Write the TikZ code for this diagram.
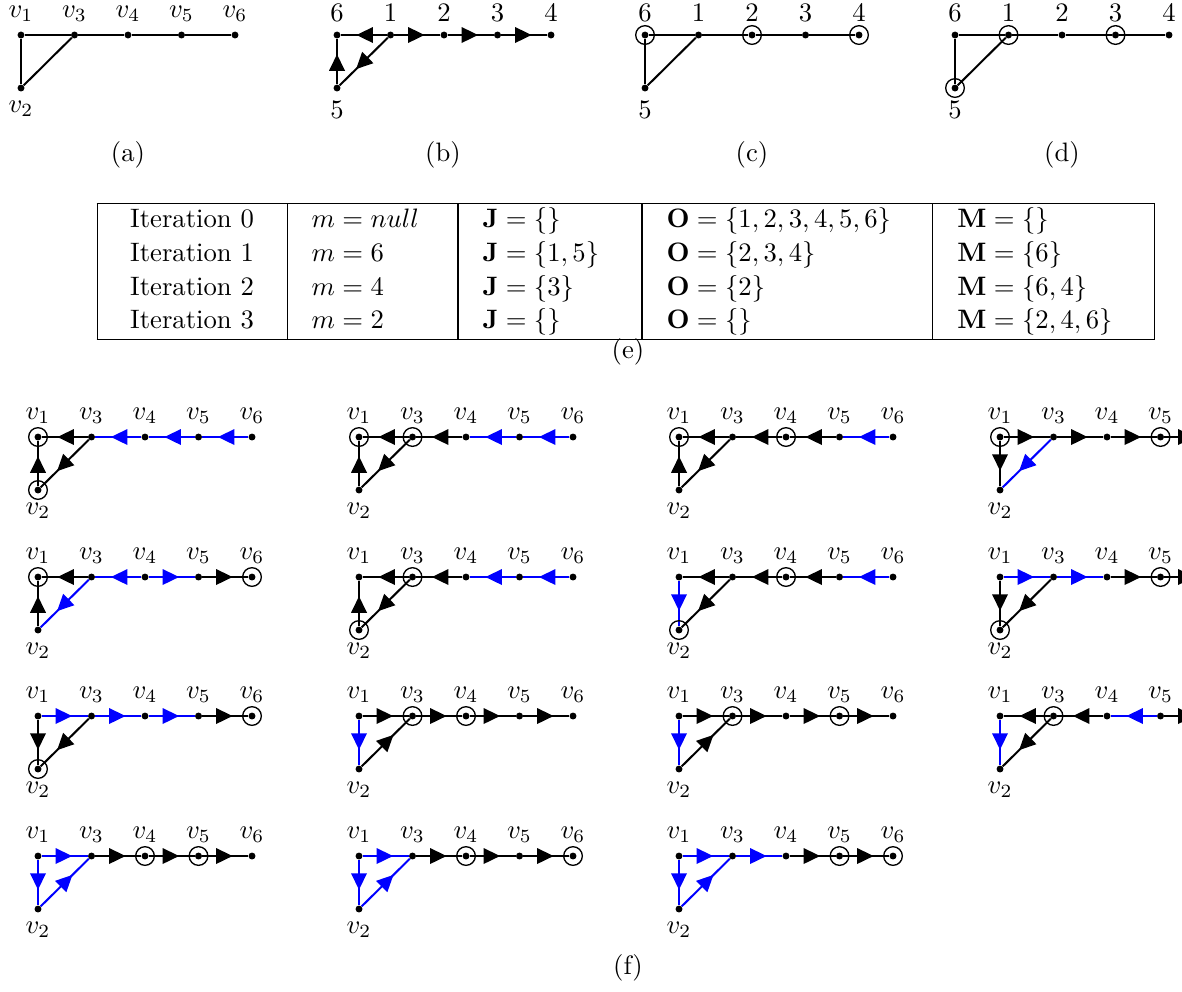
\documentclass[tikz,border=0pt]{standalone}
\usepackage{amsmath,amssymb}
\usepackage{array}
\usepackage{tikz}
\usetikzlibrary{arrows.meta,decorations.markings}
\newcommand{\vtx}[2]{$v_{#1}$}

\begin{document}
\begin{tikzpicture}[x=0.375pt, y=-0.375pt]
\tikzset{
  dot/.style ={circle, inner sep=0pt, minimum size=2.4pt},
  ring/.style={line width=0.5pt},
  pln/.style ={line width=0.75pt},
  blk/.style ={pln, postaction={decorate}, decoration={markings,
               mark=at position 0.66 with {\arrow{Triangle[length=6.2pt,width=5.8pt]}}}},
  blu/.style ={blk, color=blue},
  numlab/.code={\def\vtx##1##2{##2}},
  pics/grf/.style 2 args={code={
    \foreach \i/\x/\y/\p/\n in {1/0/0/above/6, 2/0/53/below/5, 3/53.5/0/above/1,
                                4/107/0/above/2, 5/160.5/0/above/3, 6/214/0/above/4}
      \node[dot, label={[label distance=0pt]\p:\vtx{\i}{\n}}] (-v\i) at (\x,\y) {};
    \foreach \a/\b/\s in {#2} \draw[\s] (-v\a) -- (-v\b);
    \foreach \i in {1,...,6} \fill (-v\i) circle (1.3pt);
    \def\rlist{#1}
    \ifx\rlist\empty\else \foreach \r in {#1} \draw[ring] (-v\r) circle (3.5pt); \fi
  }}
}
\clip (0,0) rectangle (1182,991);
% top row
\pic (ga) at (21,35) {grf={}{1/3/pln,3/4/pln,4/5/pln,5/6/pln,1/2/pln,2/3/pln}};
\pic[numlab] (gb) at (337,35) {grf={}{3/1/blk,3/4/blk,4/5/blk,5/6/blk,2/1/blk,3/2/blk}};
\pic[numlab] (gc) at (645,35) {grf={1,4,6}{1/3/pln,3/4/pln,4/5/pln,5/6/pln,1/2/pln,2/3/pln}};
\pic[numlab] (gd) at (955,35) {grf={3,5,2}{1/3/pln,3/4/pln,4/5/pln,5/6/pln,1/2/pln,2/3/pln}};
\node (la) at (128,155) {(a)};
\node (lb) at (443,155) {(b)};
\node (lc) at (752,155) {(c)};
\node (ld) at (1062,155) {(d)};
% iterations
\node[inner sep=0pt] (tab) at (626,271.5) {\setlength{\tabcolsep}{9pt}\renewcommand{\arraystretch}{1.05}%
  \begin{tabular}{|>{\centering\arraybackslash}p{52.85pt}|p{45.7pt}|p{50.6pt}|p{90.7pt}|p{64.85pt}|}
  \hline
  Iteration 0 & $m=null$ & $\mathbf{J}=\{\}$    & $\mathbf{O}=\{1,2,3,4,5,6\}$ & $\mathbf{M}=\{\}$\\
  Iteration 1 & $m=6$    & $\mathbf{J}=\{1,5\}$ & $\mathbf{O}=\{2,3,4\}$       & $\mathbf{M}=\{6\}$\\
  Iteration 2 & $m=4$    & $\mathbf{J}=\{3\}$   & $\mathbf{O}=\{2\}$           & $\mathbf{M}=\{6,4\}$\\
  Iteration 3 & $m=2$    & $\mathbf{J}=\{\}$    & $\mathbf{O}=\{\}$            & $\mathbf{M}=\{2,4,6\}$\\
  \hline
  \end{tabular}};
\node (le) at (628,352) {(e)};
% steps
\pic (f11) at (38,437) {grf={1,2}{3/1/blk,4/3/blu,5/4/blu,6/5/blu,2/1/blk,3/2/blk}};
\pic (f12) at (359,437) {grf={1,3}{3/1/blk,4/3/blk,5/4/blu,6/5/blu,2/1/blk,3/2/blk}};
\pic (f13) at (679,437) {grf={1,4}{3/1/blk,4/3/blk,5/4/blk,6/5/blu,2/1/blk,3/2/blk}};
\pic (f14) at (1000,437) {grf={1,5}{1/3/blk,3/4/blk,4/5/blk,5/6/blk,1/2/blk,3/2/blu}};
\pic (f21) at (38,577) {grf={1,6}{3/1/blk,4/3/blu,4/5/blu,5/6/blk,2/1/blk,3/2/blu}};
\pic (f22) at (359,577) {grf={3,2}{3/1/blk,4/3/blk,5/4/blu,6/5/blu,2/1/blk,3/2/blk}};
\pic (f23) at (679,577) {grf={4,2}{3/1/blk,4/3/blk,5/4/blk,6/5/blu,1/2/blu,3/2/blk}};
\pic (f24) at (1000,577) {grf={5,2}{1/3/blu,3/4/blu,4/5/blk,5/6/blk,1/2/blk,3/2/blk}};
\pic (f31) at (38,716) {grf={6,2}{1/3/blu,3/4/blu,4/5/blu,5/6/blk,1/2/blk,3/2/blk}};
\pic (f32) at (359,716) {grf={3,4}{1/3/blk,3/4/blk,4/5/blk,5/6/blk,1/2/blu,2/3/blk}};
\pic (f33) at (679,716) {grf={3,5}{1/3/blk,3/4/blk,4/5/blk,5/6/blk,1/2/blu,2/3/blk}};
\pic (f34) at (1000,716) {grf={3}{3/1/blk,4/3/blk,5/4/blu,5/6/blk,1/2/blu,3/2/blk}};
\pic (f41) at (38,856) {grf={4,5}{1/3/blu,3/4/blk,4/5/blk,5/6/blk,1/2/blu,2/3/blu}};
\pic (f42) at (359,856) {grf={4,6}{1/3/blu,3/4/blk,4/5/blk,5/6/blk,1/2/blu,2/3/blu}};
\pic (f43) at (679,856) {grf={5,6}{1/3/blu,3/4/blu,4/5/blk,5/6/blk,1/2/blu,2/3/blu}};
\node (lf) at (628,968) {(f)};
\end{tikzpicture}
\end{document}
